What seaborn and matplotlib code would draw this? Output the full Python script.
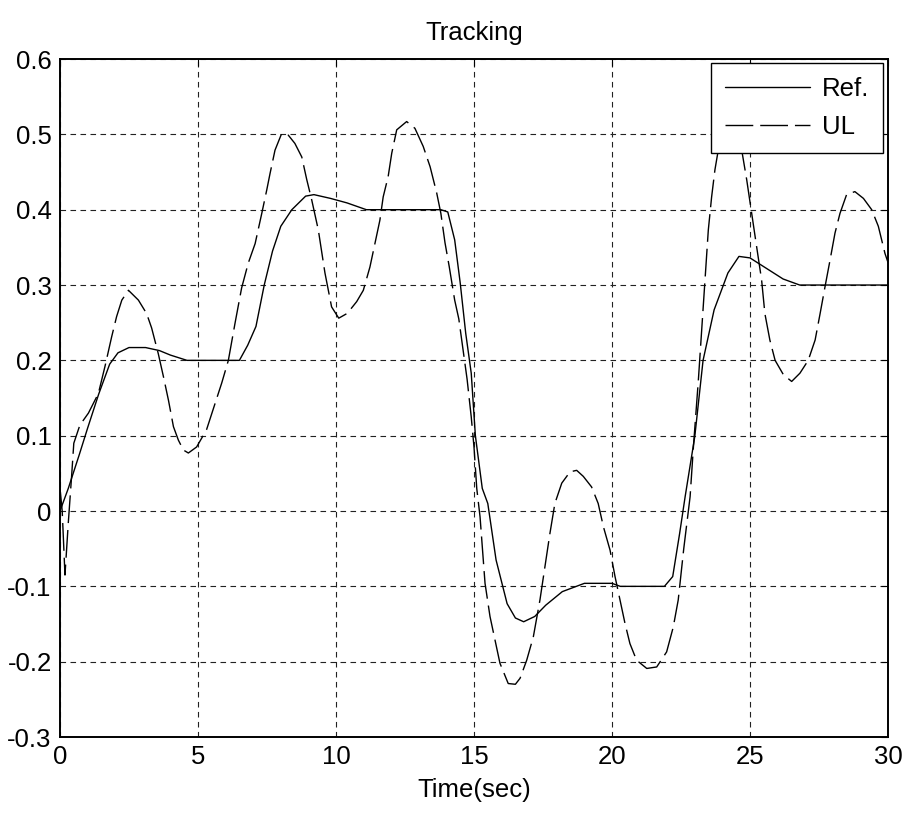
import matplotlib
matplotlib.use("Agg")
import matplotlib.pyplot as plt
import seaborn as sns
import pandas as pd
from matplotlib import font_manager

# ---------------- data ----------------
ref_t = [0, 0.3, 0.7, 1.0, 1.4, 1.8, 2.1, 2.5, 3.1, 3.6, 4.0, 4.6, 5.0, 6.5, 6.8,
         7.1, 7.4, 7.7, 8.0, 8.4, 8.9, 9.2, 9.8, 10.4, 11.1, 13.8, 14.05, 14.3,
         14.5, 14.7, 14.9, 15.05, 15.3, 15.5, 15.8, 16.2, 16.5, 16.8, 17.2, 17.6,
         18.2, 19.0, 20.0, 20.3, 21.9, 22.2, 22.45, 22.65, 23.0, 23.3, 23.7, 24.2,
         24.6, 25.0, 25.6, 26.2, 26.8, 30.0]
ref_y = [0, 0.03, 0.075, 0.11, 0.155, 0.195, 0.21, 0.217, 0.217, 0.213, 0.207,
         0.2, 0.2, 0.2, 0.22, 0.245, 0.3, 0.345, 0.378, 0.40, 0.418, 0.42, 0.415,
         0.409, 0.40, 0.40, 0.397, 0.36, 0.303, 0.236, 0.183, 0.10, 0.03, 0.01,
         -0.065, -0.123, -0.142, -0.147, -0.140, -0.125, -0.107, -0.096, -0.096,
         -0.1, -0.1, -0.087, -0.03, 0.019, 0.099, 0.2, 0.267, 0.316, 0.338, 0.336,
         0.322, 0.308, 0.3, 0.3]

ul_t = [0, 0.08, 0.18, 0.3, 0.42, 0.5, 0.72, 1.03, 1.39, 1.63, 1.87, 2.05, 2.24,
        2.48, 2.84, 3.14, 3.32, 3.56, 3.75, 3.93, 4.11, 4.29, 4.47, 4.65, 4.95,
        5.31, 5.62, 5.86, 6.1, 6.34, 6.58, 6.82, 7.07, 7.31, 7.49, 7.61, 7.79,
        8.03, 8.27, 8.51, 8.76, 8.94, 9.12, 9.36, 9.6, 9.84, 10.1, 10.39, 10.51,
        10.75, 10.99, 11.23, 11.41, 11.59, 11.71, 11.89, 12.02, 12.2, 12.56,
        12.86, 13.16, 13.41, 13.65, 13.8, 13.95, 14.1, 14.3, 14.45, 14.6, 14.75,
        14.9, 15.0, 15.1, 15.22, 15.4, 15.58, 15.76, 15.94, 16.24, 16.5, 16.67,
        16.91, 17.15, 17.39, 17.57, 17.75, 17.93, 18.18, 18.48, 18.72, 18.96,
        19.26, 19.5, 19.69, 19.93, 20.11, 20.29, 20.47, 20.65, 20.89, 21.26,
        21.62, 21.98, 22.22, 22.4, 22.6, 22.83, 22.95, 23.13, 23.25, 23.37,
        23.49, 23.61, 23.73, 23.85, 24.09, 24.4, 24.65, 24.88, 25.06, 25.24,
        25.42, 25.54, 25.72, 25.91, 26.21, 26.51, 26.81, 27.11, 27.36, 27.54,
        27.72, 27.9, 28.08, 28.26, 28.5, 28.8, 29.11, 29.41, 29.65, 29.89, 30.0]
ul_y = [0.03, 0.0, -0.085, -0.016, 0.046, 0.09, 0.114, 0.13, 0.156, 0.192, 0.231,
        0.258, 0.28, 0.293, 0.28, 0.262, 0.243, 0.209, 0.178, 0.147, 0.112,
        0.094, 0.081, 0.077, 0.085, 0.108, 0.143, 0.17, 0.2, 0.249, 0.296, 0.329,
        0.355, 0.395, 0.426, 0.448, 0.479, 0.501, 0.499, 0.488, 0.47, 0.44,
        0.413, 0.373, 0.316, 0.271, 0.256, 0.262, 0.267, 0.278, 0.293, 0.324,
        0.355, 0.386, 0.417, 0.444, 0.475, 0.506, 0.517, 0.508, 0.484, 0.457,
        0.422, 0.395, 0.356, 0.325, 0.28, 0.255, 0.215, 0.175, 0.125, 0.085,
        0.03, -0.008, -0.096, -0.14, -0.171, -0.202, -0.229, -0.23, -0.222,
        -0.198, -0.167, -0.118, -0.074, -0.03, 0.01, 0.037, 0.052, 0.054, 0.046,
        0.032, 0.01, -0.021, -0.052, -0.087, -0.118, -0.149, -0.176, -0.198,
        -0.209, -0.207, -0.187, -0.154, -0.118, -0.05, 0.019, 0.085, 0.174, 0.24,
        0.307, 0.373, 0.417, 0.453, 0.479, 0.501, 0.51, 0.49, 0.44, 0.395, 0.351,
        0.307, 0.262, 0.227, 0.2, 0.181, 0.172, 0.183, 0.2, 0.227, 0.262, 0.298,
        0.333, 0.369, 0.395, 0.42, 0.424, 0.415, 0.4, 0.378, 0.342, 0.33]

x_ticks = [0, 5, 10, 15, 20, 25, 30]
y_ticks = [-0.3, -0.2, -0.1, 0, 0.1, 0.2, 0.3, 0.4, 0.5, 0.6]
y_tick_labels = ["-0.3", "-0.2", "-0.1", "0", "0.1", "0.2", "0.3", "0.4", "0.5", "0.6"]
series_names = ["Ref.", "UL"]
title_text = "Tracking"
x_label = "Time(sec)"

# ---------------- style ----------------
sns.set_style("white")
avail = {f.name for f in font_manager.fontManager.ttflist}
fam = [f for f in ["Liberation Sans Narrow", "Liberation Sans", "DejaVu Sans"] if f in avail]
narrow = fam[0] == "Liberation Sans Narrow"
plt.rcParams["font.family"] = fam
plt.rcParams["text.color"] = "black"
plt.rcParams["axes.labelcolor"] = "black"
fs = 21 if narrow else 18.5

df = pd.concat([
    pd.DataFrame({"t": ref_t, "y": ref_y, "series": series_names[0]}),
    pd.DataFrame({"t": ul_t, "y": ul_y, "series": series_names[1]}),
], ignore_index=True)

fig = plt.figure(figsize=(9.05, 8.21), dpi=100)
ax = fig.add_axes([0.0663, 0.1023, 0.9812 - 0.0663, 0.9281 - 0.1023])

sns.lineplot(data=df, x="t", y="y", hue="series", style="series",
             palette={series_names[0]: "black", series_names[1]: "black"},
             dashes={series_names[0]: "", series_names[1]: (20, 5)},
             estimator=None, sort=False, linewidth=1.0, ax=ax, legend=True)

ax.set_xlim(0, 30)
ax.set_ylim(-0.3, 0.6)
ax.set_xticks(x_ticks)
ax.set_yticks(y_ticks)
ax.set_yticklabels(y_tick_labels)
ax.tick_params(direction="in", length=5, width=0.8, top=True, right=True,
               labelsize=fs, pad=6, colors="black")
ax.grid(True, color="#222222", linestyle=(0, (5, 4)), linewidth=0.8)
for s in ax.spines.values():
    s.set_color("black")
    s.set_linewidth(1.4)

ax.set_title(title_text, fontsize=fs, pad=14, color="black")
ax.set_xlabel(x_label, fontsize=fs, labelpad=6, color="black")
ax.set_ylabel("")

leg = ax.legend(loc="upper right", bbox_to_anchor=(0.994, 0.994), borderaxespad=0,
                fontsize=fs, frameon=True, fancybox=False, edgecolor="black",
                framealpha=1, handlelength=3.3, handletextpad=0.45,
                labelspacing=0.55, borderpad=0.55)
leg.get_frame().set_linewidth(1.0)
for h in leg.get_lines():
    h.set_linewidth(1.0)
for t in leg.get_texts():
    t.set_color("black")

fig.savefig("out.png", dpi=100)
